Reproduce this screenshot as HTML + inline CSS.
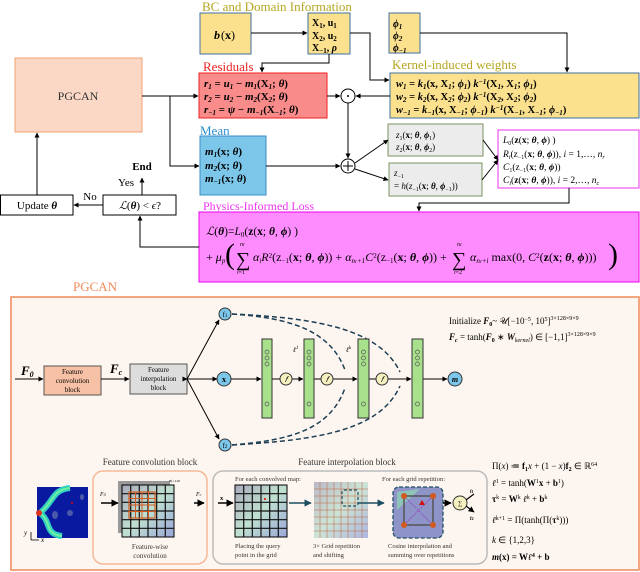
<!DOCTYPE html>
<html><head><meta charset="utf-8"><style>
html,body{margin:0;padding:0;background:#fff}
svg{display:block}
text{font-family:"Liberation Serif",serif}
.b{font-weight:bold}
</style></head><body>
<svg width="640" height="572" viewBox="0 0 640 572" xmlns="http://www.w3.org/2000/svg">
<defs>
<marker id="a" viewBox="0 0 10 10" refX="9" refY="5" markerWidth="5" markerHeight="5" orient="auto"><path d="M0,0L10,5L0,10z" fill="#000"/></marker>
<marker id="t" viewBox="0 0 10 10" refX="9" refY="5" markerWidth="5" markerHeight="5" orient="auto"><path d="M0,0L10,5L0,10z" fill="#1d4f63"/></marker>
<linearGradient id="hm" x1="0" y1="0" x2="1" y2="1"><stop offset="0" stop-color="#aab" /><stop offset="0.5" stop-color="#bfe0d0"/><stop offset="1" stop-color="#9aa6d8"/></linearGradient>
</defs>

<!-- TOP SECTION -->
<text x="202" y="11" font-size="13" fill="#b5a51f">BC and Domain Information</text>
<rect x="200" y="13" width="51" height="41" fill="#fbe08e" stroke="#3f6fa0" stroke-width="1"/>
<text x="214" y="39" font-size="12" font-style="italic" class="b">b</text><text x="221" y="39" font-size="12">(<tspan class="b">x</tspan>)</text>
<rect x="308" y="13" width="42" height="41" fill="#fbe08e" stroke="#3f6fa0"/>
<text x="312" y="26" font-size="10" class="b">X<tspan font-size="7" dy="2">1</tspan><tspan dy="-2">, u</tspan><tspan font-size="7" dy="2">1</tspan></text>
<text x="312" y="39" font-size="10" class="b">X<tspan font-size="7" dy="2">2</tspan><tspan dy="-2">, u</tspan><tspan font-size="7" dy="2">2</tspan></text>
<text x="312" y="51" font-size="10" class="b">X<tspan font-size="7" dy="2">−1</tspan><tspan dy="-2">, <tspan font-style="italic">ρ</tspan></tspan></text>
<rect x="389" y="13" width="31" height="40" fill="#fbe08e" stroke="#3f6fa0"/>
<text x="393" y="27" font-size="10" class="b" font-style="italic">ϕ<tspan font-size="7" dy="2">1</tspan></text>
<text x="393" y="39" font-size="10" class="b" font-style="italic">ϕ<tspan font-size="7" dy="2">2</tspan></text>
<text x="393" y="51" font-size="10" class="b" font-style="italic">ϕ<tspan font-size="7" dy="2">−1</tspan></text>

<text x="392" y="69" font-size="13" fill="#b5a51f">Kernel-induced weights</text>
<rect x="390" y="73" width="249" height="45" fill="#fbe08e" stroke="#3f6fa0"/>
<text x="396" y="87" font-size="10.5" class="b" font-style="italic">w<tspan font-size="7" dy="2">1</tspan><tspan dy="-2" font-style="normal"> = </tspan>k<tspan font-size="7" dy="2">1</tspan><tspan dy="-2" font-style="normal">(x, X</tspan><tspan font-size="7" dy="2">1</tspan><tspan dy="-2" font-style="normal">; </tspan>ϕ<tspan font-size="7" dy="2">1</tspan><tspan dy="-2" font-style="normal">) </tspan>k<tspan font-size="7" dy="-3">−1</tspan><tspan dy="3" font-style="normal">(X</tspan><tspan font-size="7" dy="2">1</tspan><tspan dy="-2" font-style="normal">, X</tspan><tspan font-size="7" dy="2">1</tspan><tspan dy="-2" font-style="normal">; </tspan>ϕ<tspan font-size="7" dy="2">1</tspan><tspan dy="-2" font-style="normal">)</tspan></text>
<text x="396" y="100" font-size="10.5" class="b" font-style="italic">w<tspan font-size="7" dy="2">2</tspan><tspan dy="-2" font-style="normal"> = </tspan>k<tspan font-size="7" dy="2">2</tspan><tspan dy="-2" font-style="normal">(x, X</tspan><tspan font-size="7" dy="2">2</tspan><tspan dy="-2" font-style="normal">; </tspan>ϕ<tspan font-size="7" dy="2">2</tspan><tspan dy="-2" font-style="normal">) </tspan>k<tspan font-size="7" dy="-3">−1</tspan><tspan dy="3" font-style="normal">(X</tspan><tspan font-size="7" dy="2">2</tspan><tspan dy="-2" font-style="normal">, X</tspan><tspan font-size="7" dy="2">2</tspan><tspan dy="-2" font-style="normal">; </tspan>ϕ<tspan font-size="7" dy="2">2</tspan><tspan dy="-2" font-style="normal">)</tspan></text>
<text x="396" y="113" font-size="10.5" class="b" font-style="italic">w<tspan font-size="7" dy="2">−1</tspan><tspan dy="-2" font-style="normal"> = </tspan>k<tspan font-size="7" dy="2">−1</tspan><tspan dy="-2" font-style="normal">(x, X</tspan><tspan font-size="7" dy="2">−1</tspan><tspan dy="-2" font-style="normal">; </tspan>ϕ<tspan font-size="7" dy="2">−1</tspan><tspan dy="-2" font-style="normal">) </tspan>k<tspan font-size="7" dy="-3">−1</tspan><tspan dy="3" font-style="normal">(X</tspan><tspan font-size="7" dy="2">−1</tspan><tspan dy="-2" font-style="normal">, X</tspan><tspan font-size="7" dy="2">−1</tspan><tspan dy="-2" font-style="normal">; </tspan>ϕ<tspan font-size="7" dy="2">−1</tspan><tspan dy="-2" font-style="normal">)</tspan></text>

<text x="203" y="71" font-size="13" fill="#ee2222">Residuals</text>
<rect x="199" y="73" width="128" height="45" fill="#f98b8b" stroke="#ee2222"/>
<text x="204" y="87" font-size="11" class="b" font-style="italic">r<tspan font-size="7" dy="2">1</tspan><tspan dy="-2" font-style="normal"> = </tspan>u<tspan font-size="7" dy="2">1</tspan><tspan dy="-2" font-style="normal"> − </tspan>m<tspan font-size="7" dy="2">1</tspan><tspan dy="-2" font-style="normal">(X</tspan><tspan font-size="7" dy="2">1</tspan><tspan dy="-2" font-style="normal">; </tspan>θ<tspan font-style="normal">)</tspan></text>
<text x="204" y="100" font-size="11" class="b" font-style="italic">r<tspan font-size="7" dy="2">2</tspan><tspan dy="-2" font-style="normal"> = </tspan>u<tspan font-size="7" dy="2">2</tspan><tspan dy="-2" font-style="normal"> − </tspan>m<tspan font-size="7" dy="2">2</tspan><tspan dy="-2" font-style="normal">(X</tspan><tspan font-size="7" dy="2">2</tspan><tspan dy="-2" font-style="normal">; </tspan>θ<tspan font-style="normal">)</tspan></text>
<text x="204" y="113" font-size="11" class="b" font-style="italic">r<tspan font-size="7" dy="2">−1</tspan><tspan dy="-2" font-style="normal"> = </tspan>ψ<tspan font-style="normal"> − </tspan>m<tspan font-size="7" dy="2">−1</tspan><tspan dy="-2" font-style="normal">(X</tspan><tspan font-size="7" dy="2">−1</tspan><tspan dy="-2" font-style="normal">; </tspan>θ<tspan font-style="normal">)</tspan></text>

<rect x="15" y="58" width="127" height="74" fill="#fbd8c6" stroke="#f0a070"/>
<text x="78" y="100" font-size="12" text-anchor="middle" fill="#333">PGCAN</text>

<text x="200" y="135" font-size="13" fill="#2a8fd0">Mean</text>
<rect x="200" y="136" width="66" height="59" fill="#7cc6ea" stroke="#3a8fc8"/>
<text x="205" y="155" font-size="11" class="b" font-style="italic">m<tspan font-size="7" dy="2">1</tspan><tspan dy="-2" font-style="normal">(x; </tspan>θ<tspan font-style="normal">)</tspan></text>
<text x="205" y="169" font-size="11" class="b" font-style="italic">m<tspan font-size="7" dy="2">2</tspan><tspan dy="-2" font-style="normal">(x; </tspan>θ<tspan font-style="normal">)</tspan></text>
<text x="205" y="182" font-size="11" class="b" font-style="italic">m<tspan font-size="7" dy="2">−1</tspan><tspan dy="-2" font-style="normal">(x; </tspan>θ<tspan font-style="normal">)</tspan></text>

<circle cx="348" cy="96" r="7" fill="#fff" stroke="#000"/><circle cx="348" cy="96" r="1" fill="#000"/>
<circle cx="348" cy="166" r="7" fill="#fff" stroke="#000"/><path d="M343,166h10M348,161v10" stroke="#000"/>

<rect x="388" y="124" width="95" height="32" fill="#ececec" stroke="#7a9060"/>
<text x="396" y="138" font-size="9"><tspan font-style="italic">z</tspan><tspan font-size="6" dy="2">1</tspan><tspan dy="-2">(<tspan class="b">x</tspan>; <tspan font-style="italic" class="b">θ</tspan>, <tspan font-style="italic" class="b">ϕ</tspan></tspan><tspan font-size="6" dy="2">1</tspan><tspan dy="-2">)</tspan></text>
<text x="396" y="150" font-size="9"><tspan font-style="italic">z</tspan><tspan font-size="6" dy="2">2</tspan><tspan dy="-2">(<tspan class="b">x</tspan>; <tspan font-style="italic" class="b">θ</tspan>, <tspan font-style="italic" class="b">ϕ</tspan></tspan><tspan font-size="6" dy="2">2</tspan><tspan dy="-2">)</tspan></text>
<rect x="389" y="163" width="93" height="33" fill="#ececec" stroke="#7a9060"/>
<text x="394" y="176" font-size="9"><tspan font-style="italic">z</tspan><tspan font-size="6" dy="2">−1</tspan></text>
<text x="394" y="189" font-size="9">= <tspan font-style="italic">h</tspan>(<tspan font-style="italic">z</tspan><tspan font-size="6" dy="2">−1</tspan><tspan dy="-2">(<tspan class="b">x</tspan>; <tspan font-style="italic" class="b">θ</tspan>, <tspan font-style="italic" class="b">ϕ</tspan></tspan><tspan font-size="6" dy="2">−1</tspan><tspan dy="-2">))</tspan></text>

<rect x="498" y="130" width="141" height="58" fill="#fff" stroke="#ee33ee"/>
<text x="503" y="143" font-size="9.5"><tspan font-style="italic">L</tspan><tspan font-size="6" dy="2">0</tspan><tspan dy="-2">(<tspan class="b">z</tspan>(<tspan class="b">x</tspan>; <tspan class="b" font-style="italic">θ</tspan>, <tspan class="b" font-style="italic">ϕ</tspan>) )</tspan></text>
<text x="503" y="157" font-size="9.5"><tspan font-style="italic">R<tspan font-size="6" dy="2">i</tspan></tspan><tspan dy="-2">(z</tspan><tspan font-size="6" dy="2">−1</tspan><tspan dy="-2">(<tspan class="b">x</tspan>; <tspan class="b" font-style="italic">θ</tspan>, <tspan class="b" font-style="italic">ϕ</tspan>)),  <tspan font-style="italic">i</tspan> = 1,…, <tspan font-style="italic">n</tspan></tspan><tspan font-size="6" dy="2" font-style="italic">r</tspan></text>
<text x="503" y="170" font-size="9.5"><tspan font-style="italic">C</tspan><tspan font-size="6" dy="2">1</tspan><tspan dy="-2">(z</tspan><tspan font-size="6" dy="2">−1</tspan><tspan dy="-2">(<tspan class="b">x</tspan>; <tspan class="b" font-style="italic">θ</tspan>, <tspan class="b" font-style="italic">ϕ</tspan>))</tspan></text>
<text x="503" y="183" font-size="9.5"><tspan font-style="italic">C<tspan font-size="6" dy="2">i</tspan></tspan><tspan dy="-2">(<tspan class="b">z</tspan>(<tspan class="b">x</tspan>; <tspan class="b" font-style="italic">θ</tspan>, <tspan class="b" font-style="italic">ϕ</tspan>)),     <tspan font-style="italic">i</tspan> = 2,…, <tspan font-style="italic">n</tspan></tspan><tspan font-size="6" dy="2" font-style="italic">c</tspan></text>

<text x="142" y="170" font-size="11" class="b" text-anchor="middle">End</text>
<text x="126" y="186" font-size="11" text-anchor="middle">Yes</text>
<text x="90" y="200" font-size="11" text-anchor="middle">No</text>
<rect x="0.5" y="195" width="72.5" height="20" fill="#fff" stroke="#000"/>
<text x="37" y="209" font-size="11" text-anchor="middle">Update <tspan class="b" font-style="italic">θ</tspan></text>
<rect x="103" y="195" width="73" height="20" fill="#fff" stroke="#000"/>
<text x="140" y="209" font-size="11" text-anchor="middle"><tspan font-style="italic">ℒ</tspan>(<tspan class="b" font-style="italic">θ</tspan>) &lt; <tspan font-style="italic">ϵ</tspan>?</text>

<text x="203" y="210" font-size="12" fill="#ee33ee">Physics-Informed Loss</text>
<rect x="199" y="212" width="440" height="70" fill="#ff8cff" stroke="#ee00ee"/>
<text x="206" y="235" font-size="11.5"><tspan font-style="italic">ℒ</tspan>(<tspan class="b" font-style="italic">θ</tspan>)=<tspan font-style="italic">L</tspan><tspan font-size="7" dy="2">0</tspan><tspan dy="-2">(<tspan class="b">z</tspan>(<tspan class="b">x</tspan>; <tspan class="b" font-style="italic">θ</tspan>, <tspan class="b" font-style="italic">ϕ</tspan>) )</tspan></text>
<text x="206" y="261" font-size="12">+ <tspan font-style="italic">μ</tspan><tspan font-size="7" dy="2" font-style="italic">p</tspan></text>
<text x="225" y="264" font-size="30" font-weight="100">(</text>
<text x="236" y="266" font-size="20">∑</text>
<text x="240" y="246" font-size="6" font-style="italic">n<tspan font-size="5">r</tspan></text>
<text x="237" y="274" font-size="6"><tspan font-style="italic">i</tspan>=1</text>
<text x="253" y="261" font-size="12"><tspan font-style="italic">α<tspan font-size="7" dy="2">i</tspan></tspan><tspan dy="-2" font-style="italic">R</tspan><tspan font-size="7" dy="-3" >2</tspan><tspan dy="3">(z</tspan><tspan font-size="7" dy="2">−1</tspan><tspan dy="-2">(<tspan class="b">x</tspan>; <tspan class="b" font-style="italic">θ</tspan>, <tspan class="b" font-style="italic">ϕ</tspan>)) + <tspan font-style="italic">α</tspan></tspan><tspan font-size="7" dy="2" font-style="italic">n<tspan font-size="5">r</tspan>+1</tspan><tspan dy="-2" font-style="italic">C</tspan><tspan font-size="7" dy="-3">2</tspan><tspan dy="3">(z</tspan><tspan font-size="7" dy="2">−1</tspan><tspan dy="-2">(<tspan class="b">x</tspan>; <tspan class="b" font-style="italic">θ</tspan>, <tspan class="b" font-style="italic">ϕ</tspan>)) +</tspan></text>
<text x="452" y="266" font-size="20">∑</text>
<text x="457" y="246" font-size="6" font-style="italic">n<tspan font-size="5">c</tspan></text>
<text x="454" y="274" font-size="6"><tspan font-style="italic">i</tspan>=2</text>
<text x="470" y="261" font-size="12"><tspan font-style="italic">α</tspan><tspan font-size="7" dy="2" font-style="italic">n<tspan font-size="5">r</tspan>+i</tspan><tspan dy="-2"> max(0, <tspan font-style="italic">C</tspan></tspan><tspan font-size="7" dy="-3">2</tspan><tspan dy="3">(<tspan class="b">z</tspan>(<tspan class="b">x</tspan>; <tspan class="b" font-style="italic">θ</tspan>, <tspan class="b" font-style="italic">ϕ</tspan>)))</tspan></text>
<text x="608" y="264" font-size="30" font-weight="100">)</text>

<!-- top connectors -->
<g stroke="#000" stroke-width="1" fill="none">
<path d="M251,33H307" marker-end="url(#a)"/>
<path d="M350,33H370V80H389" marker-end="url(#a)"/>
<path d="M329,54V63H262V72" marker-end="url(#a)"/>
<path d="M420,33H567V72" marker-end="url(#a)"/>
<path d="M390,96H356" marker-end="url(#a)"/>
<path d="M327,96H340" marker-end="url(#a)"/>
<path d="M142,96H198" marker-end="url(#a)"/>
<path d="M170,96V166H199" marker-end="url(#a)"/>
<path d="M266,166H340" marker-end="url(#a)"/>
<path d="M348,103V158" marker-end="url(#a)"/>
<path d="M355,163L388,140" marker-end="url(#a)"/>
<path d="M355,169L388,180" marker-end="url(#a)"/>
<path d="M483,140L498,160" marker-end="url(#a)"/>
<path d="M482,180L498,160" marker-end="url(#a)"/>
<path d="M569,188V203H419V211" marker-end="url(#a)"/>
<path d="M199,247H140V216" marker-end="url(#a)"/>
<path d="M103,205H74" marker-end="url(#a)"/>
<path d="M37,195V133" marker-end="url(#a)"/>
<path d="M142,195V178" marker-end="url(#a)"/>
</g>

<!-- BOTTOM SECTION -->
<text x="73" y="291" font-size="13" fill="#f08a5a">PGCAN</text>
<rect x="11" y="297" width="628" height="273" fill="#fdf6f0" stroke="#f08a5a" stroke-width="1.5"/>

<text x="21" y="375" font-size="13" class="b" font-style="italic">F<tspan font-size="8" dy="2">0</tspan></text>
<path d="M15,379H43" stroke="#000" marker-end="url(#a)"/>
<rect x="44" y="366" width="57" height="29" fill="#f7c1a6" stroke="#555"/>
<text x="72.5" y="374" font-size="7" text-anchor="middle">Feature</text>
<text x="72.5" y="383" font-size="7" text-anchor="middle">convolution</text>
<text x="72.5" y="392" font-size="7" text-anchor="middle">block</text>
<text x="110" y="373" font-size="13" class="b" font-style="italic">F<tspan font-size="8" dy="2">c</tspan></text>
<path d="M101,379H129" stroke="#000" marker-end="url(#a)"/>
<rect x="130" y="364" width="57" height="30" fill="#dddddd" stroke="#555"/>
<text x="158.5" y="372" font-size="7" text-anchor="middle">Feature</text>
<text x="158.5" y="381" font-size="7" text-anchor="middle">interpolation</text>
<text x="158.5" y="390" font-size="7" text-anchor="middle">block</text>
<g stroke="#000" fill="none">
<path d="M187,379H217" marker-start="url(#a)" marker-end="url(#a)"/>
<path d="M187,379L219,320" marker-end="url(#a)"/>
<path d="M187,379L219,439" marker-end="url(#a)"/>
<path d="M231,379H261" marker-end="url(#a)"/>
<path d="M272,379H281"/><path d="M291,379H303" marker-end="url(#a)"/>
<path d="M314,379H322"/><path d="M332,379H357" marker-end="url(#a)"/>
<path d="M369,379H377"/><path d="M387,379H411" marker-end="url(#a)"/>
<path d="M423,379H447" marker-end="url(#a)"/>
</g>
<g stroke="#1d3f55" stroke-width="1.5" fill="none" stroke-dasharray="5,3">
<path d="M232,314C290,318 330,330 345,370"/>
<path d="M232,314C320,318 380,330 400,372"/>
<path d="M232,445C290,440 330,430 345,388"/>
<path d="M232,445C320,440 380,430 400,386"/>
</g>
<g fill="#7cc6ea" stroke="#333">
<circle cx="225" cy="314" r="6"/><circle cx="224" cy="379" r="7"/><circle cx="225" cy="445" r="6"/><circle cx="455" cy="379" r="7"/>
</g>
<text x="225" y="317" font-size="7" text-anchor="middle">f<tspan font-size="5">1</tspan></text>
<text x="224" y="382" font-size="8" text-anchor="middle" class="b">x</text>
<text x="225" y="448" font-size="7" text-anchor="middle">f<tspan font-size="5">2</tspan></text>
<text x="455" y="382" font-size="8" text-anchor="middle" class="b" font-style="italic">m</text>
<g fill="#a8e08c" stroke="#333">
<rect x="262" y="339" width="10" height="79"/><rect x="304" y="339" width="10" height="79"/><rect x="358" y="339" width="11" height="79"/><rect x="412" y="339" width="11" height="79"/>
</g>
<g fill="none" stroke="#555" stroke-width="0.7">
<circle cx="267" cy="352" r="2"/><circle cx="267" cy="358" r="2"/><circle cx="267" cy="364" r="2"/><circle cx="267" cy="404" r="2"/>
<circle cx="309" cy="352" r="2"/><circle cx="309" cy="358" r="2"/><circle cx="309" cy="364" r="2"/><circle cx="309" cy="404" r="2"/>
<circle cx="363.5" cy="352" r="2"/><circle cx="363.5" cy="358" r="2"/><circle cx="363.5" cy="364" r="2"/><circle cx="363.5" cy="404" r="2"/>
<circle cx="417.5" cy="352" r="2"/><circle cx="417.5" cy="358" r="2"/><circle cx="417.5" cy="364" r="2"/><circle cx="417.5" cy="404" r="2"/>
</g>
<g fill="#f5f0c0" stroke="#333">
<circle cx="286" cy="379" r="6"/><circle cx="327" cy="379" r="6"/><circle cx="382" cy="379" r="6"/><circle cx="187" cy="503" r="7"/>
</g>
<g font-size="8" font-style="italic" text-anchor="middle"><text x="286" y="382">𝑓</text><text x="327" y="382">𝑓</text><text x="382" y="382">𝑓</text><text x="187" y="506">𝑓</text></g>
<text x="293" y="352" font-size="7" font-style="italic">ℓ<tspan font-size="5" dy="-3">1</tspan></text>
<text x="346" y="352" font-size="7" font-style="italic">ℓ<tspan font-size="5" dy="-3">k</tspan></text>

<text x="449" y="324" font-size="9">Initialize <tspan class="b" font-style="italic">F</tspan><tspan font-size="6" class="b" dy="2">0</tspan><tspan dy="-2">~ 𝒰[−10</tspan><tspan font-size="6" dy="-3">−5</tspan><tspan dy="3">, 10</tspan><tspan font-size="6" dy="-3">5</tspan><tspan dy="3">]</tspan><tspan font-size="6" dy="-4">3×128×9×9</tspan></text>
<text x="449" y="340" font-size="9"><tspan class="b" font-style="italic">F</tspan><tspan font-size="6" class="b" font-style="italic" dy="2">c</tspan><tspan dy="-2"> = tanh(</tspan><tspan class="b" font-style="italic">F</tspan><tspan font-size="6" class="b" dy="2">0</tspan><tspan dy="-2"> ∗ </tspan><tspan class="b" font-style="italic">W</tspan><tspan font-size="6" font-style="italic" dy="2">kernel</tspan><tspan dy="-2">) ∈ [−1,1]</tspan><tspan font-size="6" dy="-4">3×128×9×9</tspan></text>

<!-- lower subfigures -->
<text x="150" y="465" font-size="9" text-anchor="middle" fill="#333">Feature convolution block</text>
<text x="347" y="465" font-size="9" text-anchor="middle" fill="#333">Feature interpolation block</text>
<rect x="37" y="487" width="51" height="51" fill="#0a1aa0"/>
<path d="M40,513C55,500 52,490 70,488M40,513C52,522 44,534 62,536" stroke="#30d0c0" stroke-width="6" fill="none"/>
<path d="M40,513C55,500 52,490 70,488M40,513C52,522 44,534 62,536" stroke="#70f0a0" stroke-width="2" fill="none"/>
<circle cx="39" cy="513" r="3" fill="#e03020"/><circle cx="72" cy="503" r="1" fill="#e00"/>
<ellipse cx="55" cy="515" rx="3" ry="4" fill="#4a5aa8"/><ellipse cx="70" cy="513" rx="3" ry="3" fill="#4a5aa8"/><ellipse cx="82" cy="497" rx="2" ry="3" fill="#4a5aa8"/>
<path d="M31,540V532M31,540H39" stroke="#000" stroke-width="0.8" fill="none"/>
<text x="24" y="535" font-size="7" font-style="italic">y</text><text x="41" y="542" font-size="7" font-style="italic">x</text>

<rect x="93" y="471" width="114" height="93" rx="10" fill="#fdf6f0" stroke="#f5b898" stroke-width="1.5"/>
<rect x="118" y="481" width="52" height="52" fill="#999"/>
<rect x="122" y="485" width="52" height="52" fill="url(#hm)" stroke="#000"/>
<g stroke="#111" stroke-width="1.2">
<path d="M122,493.7H174M122,502.3H174M122,511H174M122,519.7H174M122,528.3H174M130.7,485V537M139.3,485V537M148,485V537M156.7,485V537M165.3,485V537"/>
</g>
<rect x="129" y="492" width="26" height="26" fill="none" stroke="#d05a20" stroke-width="1.2"/>
<path d="M135.5,492V518M142,492V518M148.5,492V518M129,498.5H155M129,505H155M129,511.5H155" stroke="#d05a20" stroke-width="1"/>
<text x="169" y="482" font-size="4.5" font-style="italic">n<tspan font-size="3.5">f=128</tspan></text>
<path d="M101,503H118" stroke="#000" stroke-width="1.5" marker-end="url(#a)"/>
<text x="100" y="496" font-size="6" font-style="italic">F<tspan font-size="4">0</tspan></text>
<path d="M194,503H204" stroke="#000" stroke-width="1.5" marker-end="url(#a)"/>
<text x="196" y="496" font-size="6" font-style="italic">F<tspan font-size="4">c</tspan></text>
<text x="150" y="549" font-size="7" text-anchor="middle" fill="#333">Feature-wise</text>
<text x="150" y="558" font-size="7" text-anchor="middle" fill="#333">convolution</text>

<rect x="213" y="471" width="274" height="93" rx="10" fill="#fdf6f0" stroke="#bbb" stroke-width="1.5"/>
<text x="235" y="481" font-size="6.5" fill="#333">For each convolved map:</text>
<text x="220" y="500" font-size="6.5" class="b">x</text>
<path d="M218,503H233" stroke="#000" stroke-width="1.5" marker-end="url(#a)"/>
<rect x="235" y="485" width="52" height="52" fill="url(#hm)" stroke="#000"/>
<path d="M235,493.7H287M235,502.3H287M235,511H287M235,519.7H287M235,528.3H287M243.7,485V537M252.3,485V537M261,485V537M269.7,485V537M278.3,485V537" stroke="#111" stroke-width="1.2"/>
<circle cx="265" cy="499" r="1" fill="#e00"/>
<path d="M289,503H311" stroke="#1d4f63" stroke-width="1.5" marker-end="url(#t)"/>
<rect x="314" y="482" width="54" height="56" fill="url(#hm)" opacity="0.8"/>
<path d="M314,489H368M314,496H368M314,503H368M314,510H368M314,517H368M314,524H368M314,531H368M320,482V538M327,482V538M334,482V538M341,482V538M348,482V538M355,482V538M362,482V538" stroke="#c06040" stroke-width="0.5"/>
<rect x="342" y="490" width="16" height="16" rx="2" fill="none" stroke="#1d4f63" stroke-dasharray="3,2" stroke-width="1.2"/>
<path d="M358,503H384" stroke="#1d4f63" stroke-width="1.5" marker-end="url(#t)"/>
<text x="382" y="481" font-size="6.5" fill="#333">For each grid repetition:</text>
<rect x="393" y="487" width="50" height="51" rx="6" fill="#8f94c8" stroke="#1d4f63" stroke-dasharray="4,2" stroke-width="1.3"/>
<path d="M397,492L420,489L397,510z" fill="#8fd8b0" opacity="0.7"/>
<rect x="404" y="496" width="29" height="29" fill="none" stroke="#555" stroke-width="1.5"/>
<path d="M404,496L433,525M433,496L404,525" stroke="#9040c0" stroke-width="0.8" stroke-dasharray="2,1"/>
<g fill="#d05a20"><circle cx="404" cy="496" r="3"/><circle cx="433" cy="496" r="3"/><circle cx="404" cy="525" r="3"/><circle cx="433" cy="525" r="3"/></g>
<path d="M422,500l3,5h-6z" fill="#d01010"/>
<path d="M443,503H451" stroke="#000" stroke-width="1.5" marker-end="url(#a)"/>
<circle cx="460" cy="503" r="7" fill="#f5f0c0" stroke="#333"/>
<text x="460" y="505" font-size="6" text-anchor="middle">∑</text>
<path d="M466,500L474,494M466,506L474,512" stroke="#000" stroke-width="1.2" marker-end="url(#a)"/>
<text x="470" y="493" font-size="5" class="b">f<tspan font-size="4">1</tspan></text>
<text x="470" y="520" font-size="5" class="b">f<tspan font-size="4">2</tspan></text>
<g font-size="6.5" fill="#333">
<text x="235" y="548">Placing the query</text><text x="235" y="557">point in the grid</text>
<text x="313" y="548">3× Grid repetition</text><text x="313" y="557">and shifting</text>
<text x="388" y="548">Cosine interpolation and</text><text x="388" y="557">summing over repetitions</text>
</g>

<g font-size="9">
<text x="492" y="469">Π(<tspan font-style="italic">x</tspan>) ≔ <tspan class="b">f</tspan><tspan font-size="6" class="b" dy="2">1</tspan><tspan dy="-2" font-style="italic">x</tspan> + (1 − <tspan font-style="italic">x</tspan>)<tspan class="b">f</tspan><tspan font-size="6" class="b" dy="2">2</tspan><tspan dy="-2"> ∈ ℝ</tspan><tspan font-size="6" dy="-3">64</tspan></text>
<text x="492" y="486"><tspan font-style="italic">ℓ</tspan><tspan font-size="6" dy="-3">1</tspan><tspan dy="3"> = tanh(</tspan><tspan class="b">W</tspan><tspan font-size="6" dy="-3">1</tspan><tspan dy="3" class="b">x</tspan> + <tspan class="b">b</tspan><tspan font-size="6" dy="-3">1</tspan><tspan dy="3">)</tspan></text>
<text x="492" y="502"><tspan class="b">τ</tspan><tspan font-size="6" dy="-3">k</tspan><tspan dy="3"> = </tspan><tspan class="b">W</tspan><tspan font-size="6" dy="-3">k</tspan><tspan dy="3"> </tspan><tspan font-style="italic">ℓ</tspan><tspan font-size="6" dy="-3">k</tspan><tspan dy="3"> + </tspan><tspan class="b">b</tspan><tspan font-size="6" dy="-3">k</tspan></text>
<text x="492" y="523"><tspan font-style="italic">ℓ</tspan><tspan font-size="6" dy="-3">k+1</tspan><tspan dy="3"> = Π(tanh(Π(</tspan><tspan class="b">τ</tspan><tspan font-size="6" dy="-3">k</tspan><tspan dy="3">)))</tspan></text>
<text x="492" y="543"><tspan font-style="italic">k</tspan> ∈ {1,2,3}</text>
<text x="492" y="560" class="b"><tspan font-style="italic">m</tspan>(x) = W<tspan font-style="italic">ℓ</tspan><tspan font-size="6" dy="-3">4</tspan><tspan dy="3"> + b</tspan></text>
</g>
</svg>
</body></html>
